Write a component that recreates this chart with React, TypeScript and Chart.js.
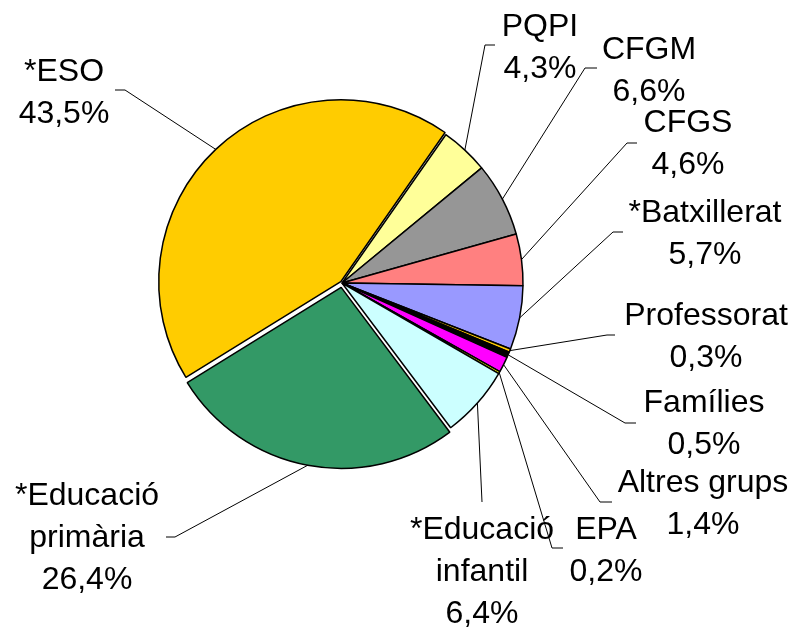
import React, { useEffect, useRef } from 'react';
import { Chart, registerables } from 'chart.js';

Chart.register(...registerables);

// ---- data ----
const categories = [
  'PQPI', 'CFGM', 'CFGS', '*Batxillerat', 'Professorat', 'Famílies',
  'Altres grups', 'EPA', '*Educació infantil', '*Educació primària', '*ESO',
];
const shares = [4.3, 6.6, 4.6, 5.7, 0.3, 0.5, 1.4, 0.2, 6.4, 26.4, 43.5];
const labelLines = [
  ['PQPI'], ['CFGM'], ['CFGS'], ['*Batxillerat'], ['Professorat'], ['Famílies'],
  ['Altres grups'], ['EPA'], ['*Educació', 'infantil'], ['*Educació', 'primària'], ['*ESO'],
];

// ---- styles ----
const sliceColors = [
  '#FFFF99', '#969696', '#FF8080', '#9999FF', '#FFCC00', '#000000',
  '#FF00FF', '#FFFF00', '#CCFFFF', '#339966', '#FFCC00',
];
const sliceOffsets = [0, 0, 0, 0, 0, 0, 0, 0, 0, 18, 7];

// label placement: text centre x, first baseline y, elbow point, tick end x
const labelLayout = [
  { x: 540, y: 36, ex: 485, ey: 45, tx: 495 },
  { x: 649, y: 59, ex: 585, ey: 68, tx: 597 },
  { x: 688, y: 132, ex: 627, ey: 143, tx: 637 },
  { x: 705, y: 222, ex: 613, ey: 232, tx: 623 },
  { x: 706, y: 325, ex: 607, ey: 335, tx: 615 },
  { x: 704, y: 412, ex: 625, ey: 423, tx: 636 },
  { x: 703, y: 492, ex: 600, ey: 502, tx: 612 },
  { x: 606, y: 539, ex: 552, ey: 548, tx: 563 },
  { x: 482, y: 539, ex: 482, ey: 502, tx: 482 },
  { x: 87, y: 505, ex: 175, ey: 537, tx: 166 },
  { x: 64, y: 81, ex: 125, ey: 90, tx: 115 },
];
const FONT = '32px "Liberation Sans", Arial, sans-serif';
const LINE_H = 42;

const fmt = (v: number) => v.toFixed(1).replace('.', ',') + '%';

const labelPlugin = {
  id: 'pieLabels',
  afterDraw(chart: any) {
    const ctx = chart.ctx;
    const meta = chart.getDatasetMeta(0);
    ctx.save();
    meta.data.forEach((arc: any, i: number) => {
      const p = arc.getProps(['x', 'y', 'startAngle', 'endAngle', 'outerRadius', 'circumference'], true);
      const mid = (p.startAngle + p.endAngle) / 2;
      const off = (sliceOffsets[i] || 0) / 4;
      const fix = 1 - Math.sin(Math.min(Math.PI, p.circumference || 0));
      const shift = off * (1 + fix);
      const sx = p.x + Math.cos(mid) * (p.outerRadius + shift);
      const sy = p.y + Math.sin(mid) * (p.outerRadius + shift);
      const L = labelLayout[i];
      ctx.strokeStyle = '#000';
      ctx.lineWidth = 1;
      ctx.beginPath();
      ctx.moveTo(sx, sy);
      ctx.lineTo(L.ex, L.ey);
      ctx.lineTo(L.tx, L.ey);
      ctx.stroke();

      ctx.fillStyle = '#000';
      ctx.font = FONT;
      ctx.textAlign = 'center';
      ctx.textBaseline = 'alphabetic';
      const lines = [...labelLines[i], fmt(shares[i])];
      lines.forEach((t, k) => ctx.fillText(t, L.x, L.y + k * LINE_H));
    });
    ctx.restore();
  },
};

export default function App() {
  const ref = useRef<HTMLCanvasElement>(null);
  useEffect(() => {
    if (!ref.current) return;
    const chart = new Chart(ref.current, {
      type: 'pie',
      data: {
        labels: categories,
        datasets: [{
          data: shares,
          backgroundColor: sliceColors,
          borderColor: '#000000',
          borderWidth: 1.5,
          offset: sliceOffsets,
        }],
      },
      options: {
        responsive: false,
        animation: false,
        rotation: 35,
        radius: 181,
        layout: { padding: { left: 0, right: 113, top: 0, bottom: 65 } },
        plugins: {
          legend: { display: false },
          tooltip: { enabled: false },
          title: { display: false },
        },
      },
      plugins: [labelPlugin],
    });
    return () => chart.destroy();
  }, []);
  return (
    <div style={{ position: 'absolute', left: 0, top: 0, width: 797, height: 631, background: '#fff' }}>
      <canvas ref={ref} width={797} height={631} style={{ width: 797, height: 631 }} />
    </div>
  );
}
